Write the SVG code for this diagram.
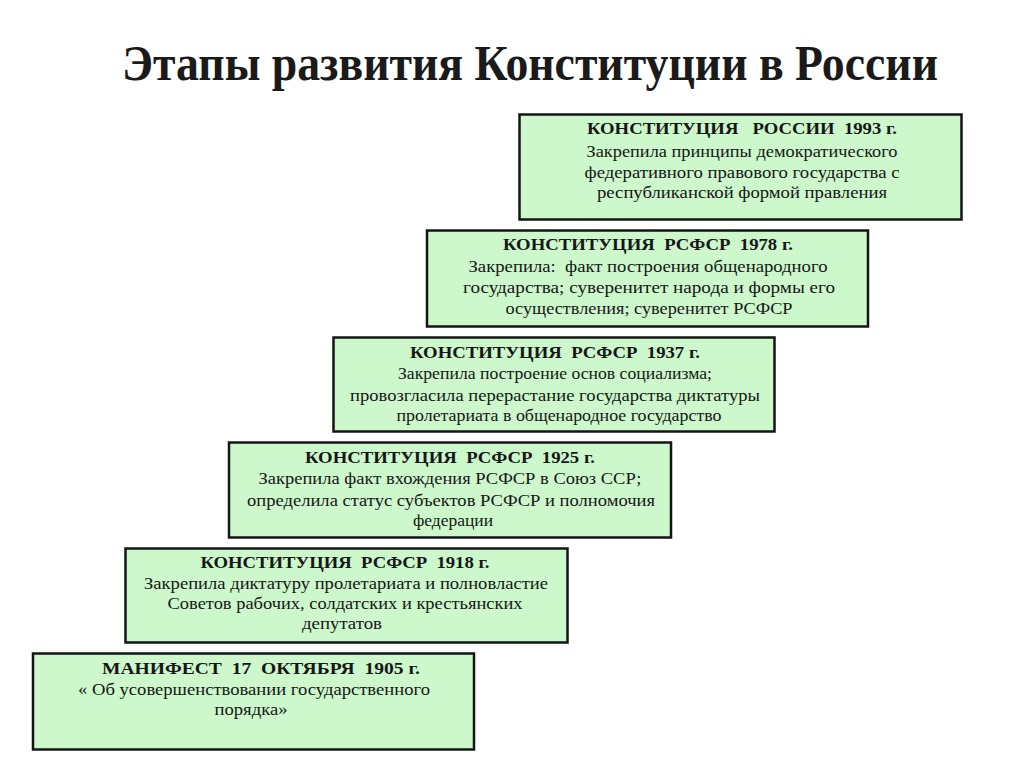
<svg xmlns="http://www.w3.org/2000/svg" width="1024" height="767" viewBox="0 0 1024 767">
<style>
.box{fill:#ccf8cc;stroke:#151515;stroke-width:2.5}
.t{font-family:"Liberation Serif","DejaVu Serif","Noto Serif",serif;fill:#161616;text-anchor:middle;white-space:pre}
.h{font-size:17px;font-weight:bold}
.b{font-size:17.5px}
.title{font-family:"Liberation Serif","DejaVu Serif","Noto Serif",serif;font-weight:bold;font-size:50px;fill:#1a1a1a}
</style>
<rect width="1024" height="767" fill="#ffffff"/>
<text class="title" x="122" y="80" textLength="816" lengthAdjust="spacingAndGlyphs">Этапы развития Конституции в России</text>

<g id="n1993">
<rect class="box" x="519.5" y="114.5" width="442" height="105"/>
<text class="t h" x="742" y="134" textLength="310" lengthAdjust="spacingAndGlyphs">КОНСТИТУЦИЯ   РОССИИ  1993 г.</text>
<text class="t b" x="742" y="157" textLength="311" lengthAdjust="spacingAndGlyphs">Закрепила принципы демократического</text>
<text class="t b" x="742" y="177.5" textLength="315" lengthAdjust="spacingAndGlyphs">федеративного правового государства с</text>
<text class="t b" x="742" y="198" textLength="290" lengthAdjust="spacingAndGlyphs">республиканской формой правления</text>
</g>

<g id="n1978">
<rect class="box" x="427" y="230.5" width="441" height="96"/>
<text class="t h" x="648" y="250" textLength="290" lengthAdjust="spacingAndGlyphs">КОНСТИТУЦИЯ  РСФСР  1978 г.</text>
<text class="t b" x="648" y="272" textLength="359" lengthAdjust="spacingAndGlyphs">Закрепила:  факт построения общенародного</text>
<text class="t b" x="649" y="293" textLength="372" lengthAdjust="spacingAndGlyphs">государства; суверенитет народа и формы его</text>
<text class="t b" x="649" y="314" textLength="287" lengthAdjust="spacingAndGlyphs">осуществления; суверенитет РСФСР</text>
</g>

<g id="n1937">
<rect class="box" x="333.5" y="337.5" width="441" height="94"/>
<text class="t h" x="555" y="358" textLength="290" lengthAdjust="spacingAndGlyphs">КОНСТИТУЦИЯ  РСФСР  1937 г.</text>
<text class="t b" x="555" y="379" textLength="314" lengthAdjust="spacingAndGlyphs">Закрепила построение основ социализма;</text>
<text class="t b" x="555" y="401" textLength="410" lengthAdjust="spacingAndGlyphs">провозгласила перерастание государства диктатуры</text>
<text class="t b" x="559" y="421" textLength="325" lengthAdjust="spacingAndGlyphs">пролетариата в общенародное государство</text>
</g>

<g id="n1925">
<rect class="box" x="229" y="442.5" width="442" height="95"/>
<text class="t h" x="450" y="463" textLength="290" lengthAdjust="spacingAndGlyphs">КОНСТИТУЦИЯ  РСФСР  1925 г.</text>
<text class="t b" x="450" y="484" textLength="383" lengthAdjust="spacingAndGlyphs">Закрепила факт вхождения РСФСР в Союз ССР;</text>
<text class="t b" x="451" y="506" textLength="408" lengthAdjust="spacingAndGlyphs">определила статус субъектов РСФСР и полномочия</text>
<text class="t b" x="453" y="526" textLength="80" lengthAdjust="spacingAndGlyphs">федерации</text>
</g>

<g id="n1918">
<rect class="box" x="125.5" y="548.5" width="442" height="94"/>
<text class="t h" x="345" y="568" textLength="289" lengthAdjust="spacingAndGlyphs">КОНСТИТУЦИЯ  РСФСР  1918 г.</text>
<text class="t b" x="346" y="589" textLength="404" lengthAdjust="spacingAndGlyphs">Закрепила диктатуру пролетариата и полновластие</text>
<text class="t b" x="345" y="609" textLength="355" lengthAdjust="spacingAndGlyphs">Советов рабочих, солдатских и крестьянских</text>
<text class="t b" x="342" y="629" textLength="80" lengthAdjust="spacingAndGlyphs">депутатов</text>
</g>

<g id="n1905">
<rect class="box" x="33" y="653.5" width="441" height="96"/>
<text class="t h" x="261" y="674" textLength="318" lengthAdjust="spacingAndGlyphs">МАНИФЕСТ  17  ОКТЯБРЯ  1905 г.</text>
<text class="t b" x="254" y="695" textLength="352" lengthAdjust="spacingAndGlyphs">« Об усовершенствовании государственного</text>
<text class="t b" x="251" y="715" textLength="73" lengthAdjust="spacingAndGlyphs">порядка»</text>
</g>

<g id="connectors"></g>
</svg>
